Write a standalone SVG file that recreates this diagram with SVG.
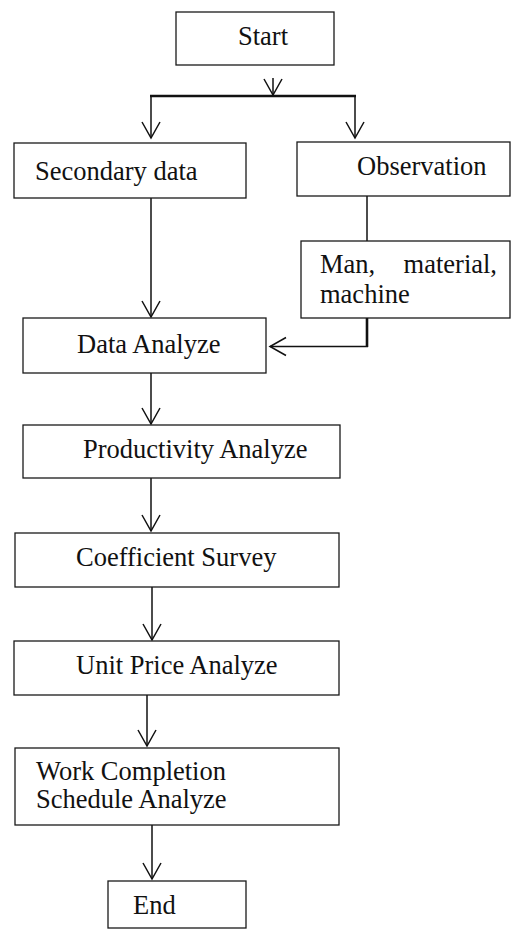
<svg xmlns="http://www.w3.org/2000/svg" width="511" height="932" viewBox="0 0 511 932">
  <style>
    .box { fill: #ffffff; stroke: #1a1a1a; stroke-width: 1.3; }
    text { font-family: 'Liberation Serif', 'Times New Roman', serif; font-size: 26.5px; fill: #111111; }
    .con { fill: none; stroke: #111111; stroke-width: 1.5; }
    .thick { fill: none; stroke: #111111; stroke-width: 2.6; }
  </style>
  <defs>
    <marker id="arr" markerUnits="userSpaceOnUse" markerWidth="24" markerHeight="24" viewBox="-20 -12 24 24" refX="0" refY="0" orient="auto" overflow="visible">
      <path d="M -16,-9 L 0,0 L -16,9" fill="none" stroke="#111111" stroke-width="1.5"/>
    </marker>
  </defs>
  <rect width="511" height="932" fill="#ffffff"/>

  <g id="connectors">
    <line class="con" x1="273" y1="78" x2="273" y2="95" marker-end="url(#arr)"/>
    <line class="thick" x1="150" y1="96" x2="356" y2="96"/>
    <line class="con" x1="151" y1="96" x2="151" y2="138" marker-end="url(#arr)"/>
    <line class="con" x1="355" y1="96" x2="355" y2="138" marker-end="url(#arr)"/>
    <line class="con" x1="151" y1="198" x2="151" y2="317" marker-end="url(#arr)"/>
    <line class="con" x1="367" y1="196" x2="367" y2="241"/>
    <line class="thick" x1="367" y1="318" x2="367" y2="347"/>
    <line class="con" x1="368" y1="346.5" x2="270" y2="346.5" stroke-width="2" marker-end="url(#arr)"/>
    <line class="con" x1="151" y1="373" x2="151" y2="424" marker-end="url(#arr)"/>
    <line class="con" x1="151" y1="478" x2="151" y2="531" marker-end="url(#arr)"/>
    <line class="con" x1="152" y1="587" x2="152" y2="640" marker-end="url(#arr)"/>
    <line class="con" x1="147" y1="695" x2="147" y2="746" marker-end="url(#arr)"/>
    <line class="con" x1="152" y1="825" x2="152" y2="879" marker-end="url(#arr)"/>
  </g>

  <g id="start">
    <rect class="box" x="176" y="12" width="158" height="53"/>
    <text x="238" y="45">Start</text>
  </g>
  <g id="secondary-data">
    <rect class="box" x="14" y="143" width="232" height="55"/>
    <text x="35" y="180">Secondary data</text>
  </g>
  <g id="observation">
    <rect class="box" x="297" y="142" width="213" height="54"/>
    <text x="357" y="175">Observation</text>
  </g>
  <g id="man-material-machine">
    <rect class="box" x="301" y="241" width="209" height="77"/>
    <text y="273"><tspan x="320">Man,</tspan><tspan x="497" text-anchor="end">material,</tspan></text>
    <text x="320" y="303">machine</text>
  </g>
  <g id="data-analyze">
    <rect class="box" x="23" y="318" width="243" height="55"/>
    <text x="77" y="353">Data Analyze</text>
  </g>
  <g id="productivity-analyze">
    <rect class="box" x="23" y="425" width="317" height="53"/>
    <text x="83" y="458">Productivity Analyze</text>
  </g>
  <g id="coefficient-survey">
    <rect class="box" x="15" y="533" width="324" height="54"/>
    <text x="76" y="566">Coefficient Survey</text>
  </g>
  <g id="unit-price-analyze">
    <rect class="box" x="14" y="641" width="325" height="54"/>
    <text x="76" y="674">Unit Price Analyze</text>
  </g>
  <g id="work-completion">
    <rect class="box" x="15" y="748" width="324" height="77"/>
    <text x="36" y="780">Work Completion</text>
    <text x="36" y="808">Schedule Analyze</text>
  </g>
  <g id="end">
    <rect class="box" x="108" y="881" width="138" height="47"/>
    <text x="133" y="914">End</text>
  </g>
</svg>
